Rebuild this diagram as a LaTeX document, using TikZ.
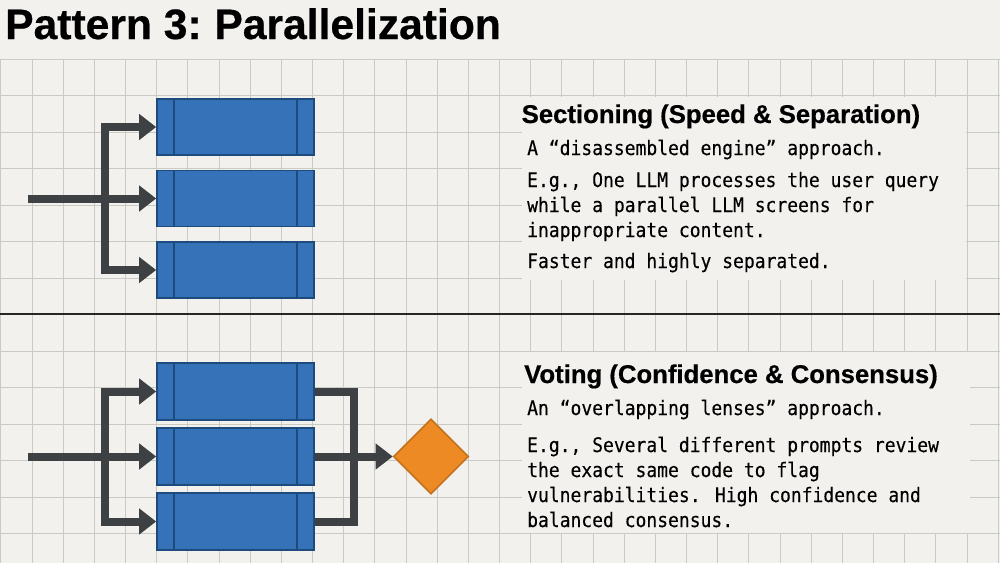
\documentclass[tikz,border=0pt]{standalone}
\usepackage{fontspec}
\usetikzlibrary{arrows.meta,shapes.geometric}
\newfontfamily\headfont[FakeBold=0.5]{Liberation Sans}
\newfontfamily\bodymono[FakeStretch=0.9,FakeBold=0.25]{DejaVu Sans Mono}
\definecolor{bg}{HTML}{F2F1ED}
\definecolor{gridc}{HTML}{CACAC5}
\definecolor{blockfill}{HTML}{3572B7}
\definecolor{blockline}{HTML}{1E4B7D}
\definecolor{arrowc}{HTML}{3E4143}
\definecolor{orangefill}{HTML}{EE8A24}
\definecolor{orangeline}{HTML}{C4711E}
\begin{document}
\begin{tikzpicture}[x=1pt,y=-1pt,
  block/.style={rectangle, fill=blockfill, draw=blockline, line width=1.6pt,
    minimum width=157pt, minimum height=56pt, inner sep=0pt,
    path picture={\draw[blockline, line width=1.6pt]
      ([xshift=17pt]path picture bounding box.north west) -- ([xshift=17pt]path picture bounding box.south west)
      ([xshift=-17pt]path picture bounding box.north east) -- ([xshift=-17pt]path picture bounding box.south east);}},
  flow/.style={draw=arrowc, line width=8pt},
  flowarrow/.style={flow, -{Triangle[length=17pt,width=25pt]}},
  titletext/.style={anchor=base west, inner sep=0pt, font=\headfont\bfseries\fontsize{42.6}{48}\selectfont},
  headtext/.style={anchor=base west, inner sep=0pt, font=\headfont\bfseries\fontsize{25.7}{30}\selectfont},
  bodytext/.style={anchor=base west, inner sep=0pt, font=\bodymono\fontsize{20}{25}\selectfont},
  panel/.style={fill=bg, draw=none},
  vote/.style={diamond, fill=orangefill, draw=orangeline, line width=1.6pt, minimum width=75pt, minimum height=75pt, inner sep=0pt, aspect=1}
]
\useasboundingbox (0,0) rectangle (1000,563);
\fill[bg] (0,0) rectangle (1000,563);
% grid
\foreach \k in {-1,...,31} {
  \draw[gridc, line width=1pt] ({32+31.17*\k},59) -- ({32+31.17*\k},563);
}
\foreach \j in {0,...,13} {
  \draw[gridc, line width=1pt] (0,{59+36.5*\j}) -- (1000,{59+36.5*\j});
}
% text panels
\fill[panel] (522,97) rectangle (966,280);
\fill[panel] (522,352) rectangle (970,533);
% divider
\draw[black!85, line width=2pt] (0,314) -- (1000,314);

% title
\node[titletext] (title) at (5,39) {Pattern 3:\kern-3pt{} Parallelization};

% ---------- Sectioning ----------
\node[block] (s1) at (235.5,127) {};
\node[block] (s2) at (235.5,198.5) {};
\node[block] (s3) at (235.5,270) {};
\coordinate (sin) at (28,198.5);
\coordinate (sj) at (105,198.5);
\draw[flowarrow] (sin) -- (s2.west);
\draw[flowarrow] (sj) |- (s1.west);
\draw[flowarrow] (sj) |- (s3.west);

\node[headtext] (sh) at (521.5,123) {Sectioning (Speed \& Separation)};
\node[bodytext] (sa) at (527,155) {A “disassembled engine” approach.};
\node[bodytext] (sb1) at (527,187) {E.g., One LLM processes the user query};
\node[bodytext] (sb2) at (527,212) {while a parallel LLM screens for};
\node[bodytext] (sb3) at (527,237) {inappropriate content.};
\node[bodytext] (sc) at (527,268) {Faster and highly separated.};

% ---------- Voting ----------
\node[block, minimum height=57pt] (v1) at (235.5,391.5) {};
\node[block, minimum height=57pt] (v2) at (235.5,456.5) {};
\node[block, minimum height=57pt] (v3) at (235.5,521.5) {};
\node[vote] (d) at (431,456.5) {};
\coordinate (vin) at (28,456.5);
\coordinate (vj) at (105,456.5);
\coordinate (vm) at (354,456.5);
\draw[flowarrow] (vin) -- (v2.west);
\draw[flowarrow] (vj) |- (v1.west);
\draw[flowarrow] (vj) |- (v3.west);
\draw[flow] (v1.east) -| (vm);
\draw[flow] (v3.east) -| (vm);
\draw[flowarrow] (v2.east) -- (d.west);

\node[headtext] (vh) at (524,383) {Voting (Confidence \& Consensus)};
\node[bodytext] (va) at (527,415) {An “overlapping lenses” approach.};
\node[bodytext] (vb1) at (527,452) {E.g., Several different prompts review};
\node[bodytext] (vb2) at (527,477) {the exact same code to flag};
\node[bodytext] (vb3) at (527,502) {vulnerabilities. High confidence and};
\node[bodytext] (vb4) at (527,527) {balanced consensus.};
\end{tikzpicture}
\end{document}
